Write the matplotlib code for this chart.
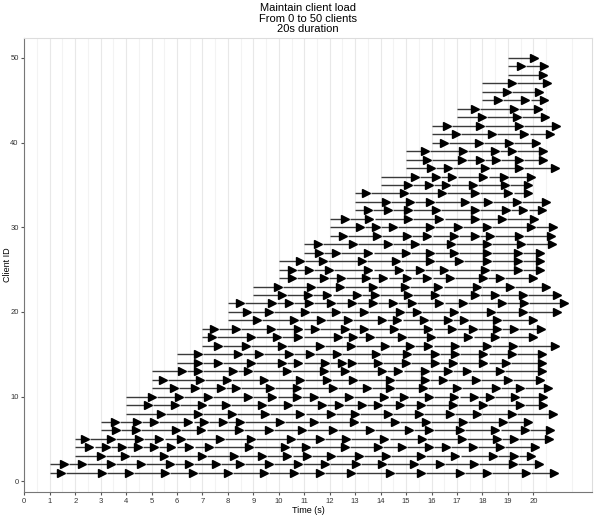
import matplotlib.pyplot as plt

plt.rcParams['font.family'] = ['Liberation Sans', 'DejaVu Sans']

client_ids = list(range(1, 51))
start_times = [1, 1, 2, 2, 2, 3, 3, 4, 4, 4,
               5, 5, 5, 6, 6, 7, 7, 7, 8, 8,
               8, 9, 9, 10, 10, 10, 11, 11, 12, 12,
               12, 13, 13, 13, 14, 14, 15, 15, 15, 16,
               16, 16, 17, 17, 18, 18, 18, 19, 19, 19]

# end time of each request, per client
request_ends = [
    [1.44, 3.04, 4.1, 5.53, 6.64, 8.0, 9.4, 10.6, 11.6, 12.83, 14.35, 15.6, 17.13, 18.18, 19.72, 20.8],
    [1.57, 2.25, 3.4, 4.6, 5.73, 6.47, 7.52, 8.48, 9.6, 10.75, 11.8, 13.04, 14.05, 15.32, 16.32, 17.66, 19.2, 20.23],
    [3.0, 3.97, 5.49, 6.97, 8.22, 9.33, 10.34, 11.1, 12.05, 13.15, 14.22, 15.59, 16.94, 18.42, 19.23, 19.91],
    [2.56, 3.21, 3.83, 4.48, 5.1, 5.78, 6.49, 7.26, 8.81, 10.25, 11.08, 12.61, 13.88, 14.84, 15.89, 16.57, 17.62, 18.67, 20.08],
    [2.38, 3.41, 4.5, 5.31, 6.15, 7.69, 8.9, 10.47, 11.63, 12.65, 14.15, 15.63, 17.2, 18.58, 19.23, 20.6],
    [3.6, 4.38, 5.95, 6.96, 8.45, 9.6, 10.9, 12.13, 13.57, 15.13, 15.89, 17.13, 18.51, 19.66, 20.67],
    [3.55, 4.42, 5.1, 6.45, 7.07, 7.8, 8.48, 10.04, 11.39, 12.97, 14.55, 15.78, 17.23, 18.81, 19.8],
    [5.36, 6.84, 8.15, 9.46, 10.85, 12.05, 12.98, 14.29, 15.5, 16.72, 17.79, 19.17, 20.78],
    [4.87, 5.92, 7.0, 7.92, 9.33, 10.35, 11.7, 12.35, 13.27, 13.9, 14.75, 15.59, 16.85, 18.03, 19.49, 20.37],
    [5.0, 6.08, 7.2, 8.77, 9.75, 10.7, 11.39, 12.77, 14.15, 14.91, 15.89, 16.9, 17.66, 18.29, 19.27, 20.38],
    [5.89, 6.7, 7.72, 8.31, 9.66, 10.7, 12.11, 13.46, 14.38, 15.67, 17.0, 18.54, 19.49, 20.58],
    [5.46, 6.9, 7.95, 9.42, 10.83, 11.88, 12.93, 14.37, 15.74, 16.46, 17.75, 19.0, 20.26],
    [6.2, 6.81, 8.21, 8.8, 10.31, 11.78, 12.6, 14.04, 14.7, 15.74, 16.66, 17.38, 18.69, 20.33],
    [6.81, 7.6, 8.89, 10.11, 10.77, 11.82, 12.47, 12.86, 13.91, 15.0, 16.14, 16.86, 18.04, 18.93, 20.33],
    [6.81, 8.38, 9.22, 10.4, 11.23, 12.3, 13.82, 15.02, 16.14, 16.92, 18.04, 19.15, 20.33],
    [7.62, 8.7, 10.11, 11.62, 12.85, 14.17, 15.16, 15.88, 16.92, 18.17, 19.21, 20.85],
    [7.36, 8.89, 9.92, 10.77, 12.34, 12.93, 13.58, 14.83, 15.97, 17.45, 18.5, 20.0],
    [7.45, 8.3, 9.68, 10.77, 11.42, 12.6, 13.35, 14.53, 15.88, 16.79, 17.62, 18.56, 19.24, 20.29],
    [9.13, 10.61, 11.64, 12.7, 14.04, 14.66, 15.71, 16.66, 17.28, 18.56, 19.98],
    [8.74, 9.61, 11.03, 12.25, 13.35, 14.76, 15.44, 16.9, 18.33, 19.58, 20.92],
    [8.48, 9.72, 10.41, 11.2, 12.05, 12.86, 13.69, 14.5, 15.22, 16.31, 17.23, 18.76, 19.63, 21.21],
    [10.11, 11.16, 11.91, 13.06, 13.78, 15.09, 16.14, 17.71, 18.5, 19.58, 20.94],
    [9.98, 11.25, 12.4, 13.69, 14.96, 16.27, 17.78, 19.09, 20.5],
    [10.53, 11.77, 12.45, 13.43, 14.11, 15.02, 15.84, 16.73, 18.01, 18.67, 20.0],
    [10.53, 11.2, 11.98, 13.52, 14.74, 15.55, 16.49, 18.1, 19.41, 20.26],
    [10.83, 11.75, 13.26, 14.61, 15.94, 17.06, 18.17, 19.41, 20.26],
    [11.59, 12.23, 13.52, 14.99, 15.92, 16.88, 18.17, 19.41, 20.26],
    [11.53, 12.93, 14.28, 15.35, 16.75, 18.17, 19.52, 20.72],
    [12.51, 13.87, 15.05, 15.84, 16.88, 17.71, 18.3, 19.45, 20.68],
    [13.19, 13.82, 14.5, 15.94, 17.05, 18.17, 19.9, 20.79],
    [12.6, 13.56, 15.09, 16.31, 17.71, 18.76, 20.03],
    [13.49, 14.28, 15.09, 16.18, 17.71, 18.93, 19.61, 20.33],
    [14.2, 15.16, 15.94, 17.32, 18.23, 19.35, 20.5],
    [13.41, 14.93, 16.4, 17.71, 19.02, 19.77],
    [15.09, 15.91, 16.57, 17.64, 18.89, 19.77],
    [15.35, 16.16, 16.82, 18.04, 18.85, 19.9],
    [15.97, 16.63, 18.1, 19.45, 20.85],
    [15.81, 17.19, 17.9, 18.53, 19.45, 20.39],
    [15.74, 17.22, 18.5, 19.15, 20.39],
    [16.5, 17.87, 19.05, 20.1],
    [16.96, 18.36, 19.65, 20.66],
    [16.6, 17.9, 19.45, 20.88],
    [17.97, 19.37, 20.46],
    [17.71, 19.24, 20.17],
    [18.6, 19.69, 20.43],
    [18.95, 20.24],
    [19.15, 20.55],
    [20.36],
    [19.5, 20.43],
    [20.04],
]

title = 'Maintain client load\nFrom 0 to 50 clients\n20s duration'
gap = 0.2

fig = plt.figure(figsize=(6, 5.16), dpi=100)
ax = fig.add_axes([0.0405, 0.046, 0.946, 0.881])

for cid, st, ends in zip(client_ids, start_times, request_ends):
    begins = [st] + [e + gap for e in ends[:-1]]
    ax.hlines([cid] * len(ends), begins, ends, color='#3a3a3a', lw=1.0, zorder=2)
    ax.plot(ends, [cid] * len(ends), ls='none', marker='>', ms=5.4,
            color='black', mec='black', zorder=3)

ax.set_xlim(0, 22.3)
ax.set_ylim(-1.3, 52.4)
ax.set_xticks(range(0, 21))
ax.set_xticks([x + 0.5 for x in range(0, 22)], minor=True)
ax.set_yticks(range(0, 51, 10))
ax.grid(True, which='major', axis='x', color='#e8e8e8', lw=0.8, zorder=0)
ax.grid(True, which='minor', axis='x', color='#f3f3f3', lw=0.8, zorder=0)
ax.tick_params(axis='both', which='major', labelsize=5.5, length=2.5,
               color='#555555', labelcolor='#333333', pad=1.5)
ax.tick_params(axis='both', which='minor', length=0)
for side in ['left', 'bottom']:
    ax.spines[side].set_color('#777777')
for side in ['top', 'right']:
    ax.spines[side].set_color('#dddddd')

ax.set_xlabel('Time (s)', fontsize=6.5, labelpad=1)
ax.set_ylabel('Client ID', fontsize=6.5)
ax.yaxis.set_label_coords(-0.022, 0.5)
ax.set_title(title, fontsize=8, linespacing=1.05, pad=4)

fig.savefig('out.png', dpi=100)
